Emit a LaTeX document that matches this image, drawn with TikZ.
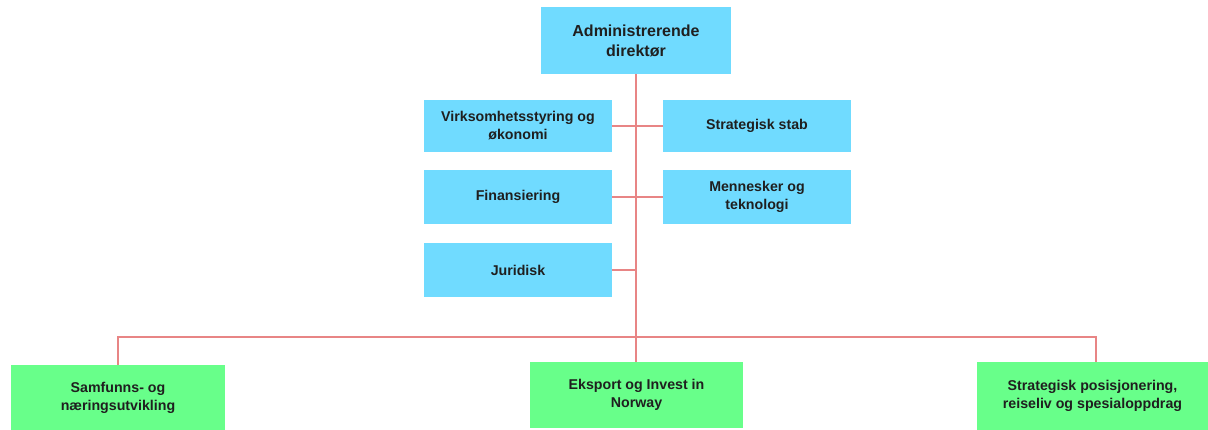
\documentclass[tikz,border=0pt]{standalone}
\usepackage{fontspec}
\setmainfont{Liberation Sans}
\begin{document}
\begin{tikzpicture}[x=1pt,y=-1pt,
  every node/.style={inner sep=0pt,outer sep=0pt,align=center,text=black!88},
  bluebox/.style={fill=boxblue,draw=none,font=\bfseries\fontsize{14.2}{18}\selectfont},
  topbox/.style={fill=boxblue,draw=none,font=\bfseries\fontsize{16}{20}\selectfont},
  greenbox/.style={fill=boxgreen,draw=none,font=\bfseries\fontsize{14.2}{18}\selectfont},
  link/.style={draw=linkred,line width=1.5pt}]
\definecolor{boxblue}{HTML}{70DBFF}
\definecolor{boxgreen}{HTML}{68FF8A}
\definecolor{linkred}{HTML}{E88585}
\useasboundingbox (0,0) rectangle (1208,430);
\fill[white] (0,0) rectangle (1208,430);
% nodes
\node[topbox,minimum width=190pt,minimum height=67pt] (ceo) at (636,40.5) {Administrerende\\direktør};
\node[bluebox,minimum width=188pt,minimum height=52pt] (vo) at (518,126) {Virksomhetsstyring og\\økonomi};
\node[bluebox,minimum width=188pt,minimum height=54pt] (fin) at (518,197) {Finansiering};
\node[bluebox,minimum width=188pt,minimum height=54pt] (jur) at (518,270) {Juridisk};
\node[bluebox,minimum width=188pt,minimum height=52pt] (ss) at (757,126) {Strategisk stab};
\node[bluebox,minimum width=188pt,minimum height=54pt] (mt) at (757,197) {Mennesker og\\teknologi};
\node[greenbox,minimum width=214pt,minimum height=65pt] (sn) at (118,397.5) {Samfunns- og\\næringsutvikling};
\node[greenbox,minimum width=213pt,minimum height=66pt] (ein) at (636.5,395) {Eksport og Invest in\\Norway};
\node[greenbox,minimum width=231pt,minimum height=68pt] (sp) at (1092.5,396) {Strategisk posisjonering,\\reiseliv og spesialoppdrag};
% coordinates
\coordinate (bus) at (636,337);
\coordinate (j3) at (636,270);
\coordinate (spdrop) at (1096,362);
% connectors
\draw[link] (ceo.south) -- (ceo.south |- ein.north);
\draw[link] (vo.east) -- (ss.west);
\draw[link] (fin.east) -- (mt.west);
\draw[link] (jur.east) -- (j3);
\draw[link] (sn.north) |- (bus) -| (spdrop);
\end{tikzpicture}
\end{document}
